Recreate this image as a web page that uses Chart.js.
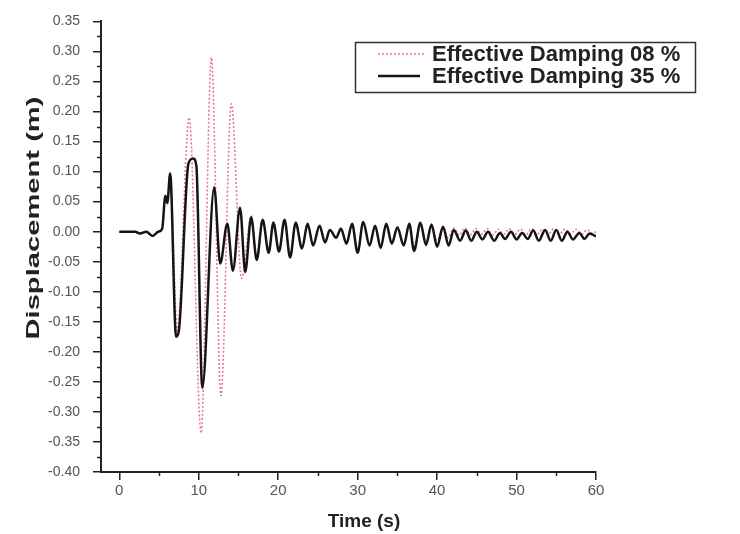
<!DOCTYPE html>
<html>
<head>
<meta charset="utf-8">
<script src="https://cdn.jsdelivr.net/npm/chart.js@4/dist/chart.umd.min.js"></script>
<style>
  body { margin: 0; background: #fff; }
  #wrap { width: 740px; height: 534px; }
</style>
</head>
<body>
<div id="wrap"><canvas id="myChart" width="740" height="534"></canvas></div>
<script>
// time (s) and displacement (m), peaks and troughs
const time35 = [0, 2.0, 2.6, 3.4, 4.2, 4.9, 5.4, 5.8, 6.05, 6.4, 7.15, 7.5, 8.7, 9.3, 9.7, 10.45, 11.95, 12.7, 13.6, 14.3, 15.2,
  15.85, 16.6, 17.3, 18.05, 18.8, 19.4, 20.1, 20.8, 21.5, 22.2, 23.0, 23.7, 24.4, 25.2, 25.9, 26.5, 27.3, 27.9, 28.6, 29.3,
  30.0, 30.7, 31.5, 32.2, 32.9, 33.6, 34.3, 35.0, 35.8, 36.5, 37.1, 37.9, 38.6, 39.3, 40.0, 40.75, 41.45, 42.1, 42.9, 43.6,
  44.3, 45.0, 45.7, 46.4, 47.2, 47.9, 48.55, 49.3, 50.0, 50.7, 51.4, 52.1, 52.8, 53.6, 54.3, 55.0, 55.7, 56.4, 57.1, 57.9,
  58.55, 59.2, 60.0];
const disp35 = [0, 0, -0.003, 0, -0.007, 0, 0.005, 0.06, 0.048, 0.097, -0.175, -0.165, 0.113, 0.122, 0.11, -0.26, 0.074, -0.053, 0.013, -0.065, 0.04,
  -0.067, 0.024, -0.047, 0.02, -0.035, 0.015, -0.033, 0.02, -0.043, 0.015, -0.028, 0.013, -0.023, 0.01, -0.018, 0.003, -0.01, 0.005, -0.02, 0.013,
  -0.035, 0.016, -0.023, 0.01, -0.027, 0.013, -0.02, 0.007, -0.023, 0.013, -0.032, 0.015, -0.022, 0.012, -0.025, 0.008, -0.023, 0.003, -0.015, 0.002,
  -0.015, 0, -0.013, 0, -0.015, -0.002, -0.012, 0, -0.013, -0.002, -0.012, 0.002, -0.015, 0.003, -0.015, 0.003, -0.015, 0, -0.013, -0.002,
  -0.012, -0.003, -0.008];

const time08 = [0, 2.0, 2.6, 3.4, 4.2, 4.9, 5.4, 5.8, 6.05, 6.4, 7.3, 8.8, 10.3, 11.6, 12.8, 14.1, 15.4, 16.6, 17.3, 18.05,
  18.8, 19.4, 20.1, 20.8, 21.5, 22.2, 23.0, 23.7, 24.4, 25.2, 25.9, 26.5, 27.3, 27.9, 28.6, 29.3, 30.0, 30.7, 31.5, 32.2,
  32.9, 33.6, 34.3, 35.0, 35.8, 36.5, 37.2, 37.9, 38.6, 39.3, 40.0, 40.7, 41.4, 42.1, 42.8, 43.5, 44.2, 44.9, 45.6, 46.3,
  47.0, 47.7, 48.4, 49.1, 49.8, 50.5, 51.2, 51.9, 52.6, 53.3, 54.0, 54.7, 55.4, 56.1, 56.8, 57.5, 58.2, 58.9, 59.6, 60.0];
const disp08 = [0, 0, -0.003, 0, -0.007, 0, 0.005, 0.055, 0.045, 0.09, -0.165, 0.19, -0.335, 0.29, -0.273, 0.213, -0.078, 0.026, -0.045, 0.02,
  -0.036, 0.016, -0.032, 0.021, -0.041, 0.016, -0.027, 0.014, -0.022, 0.011, -0.017, 0.004, -0.011, 0.006, -0.019, 0.012, -0.033, 0.015, -0.022, 0.01,
  -0.025, 0.012, -0.018, 0.008, -0.02, 0.012, -0.025, 0.012, -0.018, 0.01, -0.015, 0.008, -0.01, 0.006, -0.006, 0.006, -0.005, 0.005, -0.004, 0.005,
  -0.005, 0.004, -0.004, 0.005, -0.004, 0.004, -0.005, 0.005, -0.004, 0.004, -0.004, 0.005, -0.004, 0.004, -0.004, 0.004, -0.004, 0.003, -0.003, 0];

const xTicks = [0, 10, 20, 30, 40, 50, 60];
const xMinor = [5, 15, 25, 35, 45, 55];
const yTicks = [-0.4, -0.35, -0.3, -0.25, -0.2, -0.15, -0.1, -0.05, 0, 0.05, 0.1, 0.15, 0.2, 0.25, 0.3, 0.35];
const yMinor = [-0.375, -0.325, -0.275, -0.225, -0.175, -0.125, -0.075, -0.025, 0.025, 0.075, 0.125, 0.175, 0.225, 0.275, 0.325];
const seriesNames = ['Effective Damping 08 %', 'Effective Damping 35 %'];

const FONT = "'Liberation Sans', Arial, sans-serif";
const AXIS = '#222';

// minor ticks, axis titles and the boxed legend
const extras = {
    id: 'extras',
    afterDraw(chart) {
        const ctx = chart.ctx;
        const xs = chart.scales.x, ys = chart.scales.y;
        const area = chart.chartArea;
        ctx.save();
        ctx.strokeStyle = AXIS;
        ctx.lineWidth = 1.5;
        xMinor.forEach(v => {
            const px = Math.round(xs.getPixelForValue(v)) + 0.5;
            ctx.beginPath(); ctx.moveTo(px, area.bottom); ctx.lineTo(px, area.bottom + 4); ctx.stroke();
        });
        yMinor.forEach(v => {
            const py = Math.round(ys.getPixelForValue(v)) + 0.5;
            ctx.beginPath(); ctx.moveTo(area.left - 4, py); ctx.lineTo(area.left, py); ctx.stroke();
        });

        // axis titles
        ctx.fillStyle = '#222';
        ctx.textAlign = 'center';
        ctx.textBaseline = 'middle';
        ctx.font = 'bold 19px ' + FONT;
        ctx.fillText('Time (s)', 364, 522);

        ctx.save();
        ctx.translate(34, 218);
        ctx.rotate(-Math.PI / 2);
        ctx.font = 'bold 19px ' + FONT;
        const w = ctx.measureText('Displacement (m)').width;
        ctx.scale(243 / w, 1);
        ctx.fillText('Displacement (m)', 0, 0);
        ctx.restore();

        // legend
        ctx.lineWidth = 1.5;
        ctx.strokeStyle = '#333';
        ctx.strokeRect(355.5, 42.5, 340, 50);
        ctx.strokeStyle = '#e8789a';
        ctx.lineWidth = 1.6;
        ctx.setLineDash([2, 2]);
        ctx.beginPath(); ctx.moveTo(378, 54); ctx.lineTo(425, 54); ctx.stroke();
        ctx.setLineDash([]);
        ctx.strokeStyle = '#151515';
        ctx.lineWidth = 2.5;
        ctx.beginPath(); ctx.moveTo(378, 76); ctx.lineTo(420, 76); ctx.stroke();
        ctx.textAlign = 'left';
        ctx.font = 'bold 22px ' + FONT;
        ctx.fillStyle = '#222';
        ctx.fillText(seriesNames[0], 432, 55);
        ctx.fillText(seriesNames[1], 432, 77);
        ctx.restore();
    }
};

const pts = (t, d) => t.map((v, i) => ({x: v, y: d[i]}));

const myChart = new Chart(document.getElementById('myChart'), {
    type: 'line',
    data: {
        datasets: [{
            label: seriesNames[1],
            data: pts(time35, disp35),
            borderColor: '#151515',
            borderWidth: 2.5,
            pointRadius: 0,
            cubicInterpolationMode: 'monotone'
        }, {
            label: seriesNames[0],
            data: pts(time08, disp08),
            borderColor: '#e8789a',
            borderWidth: 1.6,
            borderDash: [2, 2],
            pointRadius: 0,
            cubicInterpolationMode: 'monotone'
        }]
    },
    options: {
        responsive: false,
        animation: false,
        layout: { padding: { top: 20, right: 144, left: 0, bottom: 0 } },
        plugins: { legend: { display: false }, tooltip: { enabled: false } },
        scales: {
            x: {
                type: 'linear',
                min: -2.3,
                max: 60,
                afterBuildTicks: s => { s.ticks = xTicks.map(v => ({value: v})); },
                afterFit: s => { s.height = 62; },
                grid: { drawOnChartArea: false, drawTicks: true, tickLength: 8, color: AXIS, lineWidth: 1.5 },
                border: { display: true, color: AXIS, width: 2 },
                ticks: { color: '#555', font: { family: FONT, size: 15 }, padding: 2, maxRotation: 0 }
            },
            y: {
                min: -0.4,
                max: 0.35,
                afterBuildTicks: s => { s.ticks = yTicks.map(v => ({value: v})); },
                afterFit: s => { s.width = 101; },
                grid: { drawOnChartArea: false, drawTicks: true, tickLength: 8, color: AXIS, lineWidth: 1.5 },
                border: { display: true, color: AXIS, width: 2 },
                ticks: {
                    color: '#555',
                    font: { family: FONT, size: 14 },
                    padding: 13,
                    callback: v => v.toFixed(2)
                }
            }
        }
    },
    plugins: [extras]
});
</script>
</body>
</html>
